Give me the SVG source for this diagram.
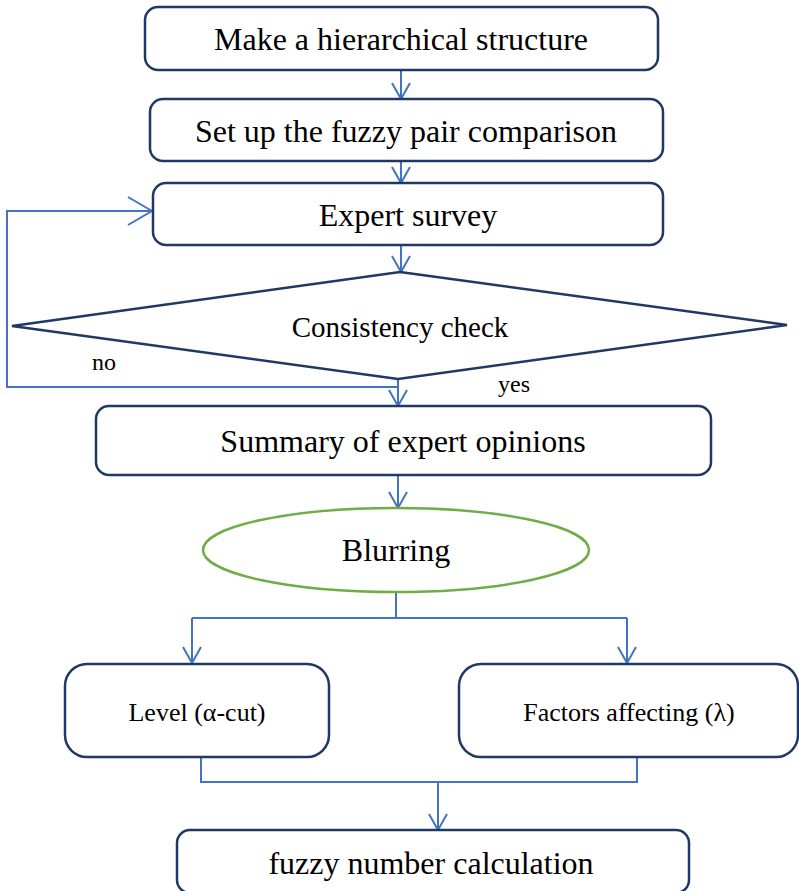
<svg xmlns="http://www.w3.org/2000/svg" width="799" height="891" viewBox="0 0 799 891">
<defs>
<style>
.node{fill:#fff;stroke:#203864;stroke-width:2.5}
.ell{fill:#fff;stroke:#70AD47;stroke-width:2.5}
.conn{fill:none;stroke:#4472C4;stroke-width:2}
.t{font-family:"Liberation Serif","Times New Roman",serif;fill:#000;text-anchor:middle}
.big{font-size:32px}
.mid{font-size:29px}
.sm{font-size:26px}
.lbl{font-size:24px}
</style>
<marker id="ah" viewBox="0 0 18 20" refX="17" refY="10" markerWidth="18" markerHeight="20" markerUnits="userSpaceOnUse" orient="auto">
<path d="M1,1 L17,10 L1,19" fill="none" stroke="#4472C4" stroke-width="2"/>
</marker>
<marker id="ahb" viewBox="0 0 26 30" refX="25" refY="15" markerWidth="26" markerHeight="30" markerUnits="userSpaceOnUse" orient="auto">
<path d="M1,1 L25,15 L1,29" fill="none" stroke="#4472C4" stroke-width="2"/>
</marker>
</defs>
<g id="connectors">
<path class="conn" d="M401,70 V99" marker-end="url(#ah)"/>
<path class="conn" d="M401,161 V183" marker-end="url(#ah)"/>
<path class="conn" d="M401,245 V272" marker-end="url(#ah)"/>
<path class="conn" d="M398,379 V406" marker-end="url(#ah)"/>
<path class="conn" d="M398,387 H7 V211 H152" marker-end="url(#ahb)"/>
<path class="conn" d="M398,475 V508" marker-end="url(#ah)"/>
<path class="conn" d="M396,593 V618"/>
<path class="conn" d="M192,618 H627"/>
<path class="conn" d="M192,618 V663" marker-end="url(#ah)"/>
<path class="conn" d="M627,618 V663" marker-end="url(#ah)"/>
<path class="conn" d="M201,757 V782 H637 V757"/>
<path class="conn" d="M438,782 V830" marker-end="url(#ah)"/>
</g>
<g id="n1"><rect class="node" x="145" y="7" width="513" height="63" rx="13"/><text class="t big" x="401" y="50">Make a hierarchical structure</text></g>
<g id="n2"><rect class="node" x="150" y="99" width="513" height="62" rx="13"/><text class="t big" x="406" y="142">Set up the fuzzy pair comparison</text></g>
<g id="n3"><rect class="node" x="153" y="183" width="510" height="62" rx="13"/><text class="t big" x="408" y="226">Expert survey</text></g>
<g id="n4"><polygon class="node" points="400,272 787,325 398,379 12,326"/><text class="t mid" x="400" y="337">Consistency check</text></g>
<text class="t lbl" x="104" y="370">no</text>
<text class="t lbl" x="514" y="392">yes</text>
<g id="n5"><rect class="node" x="96" y="406" width="615" height="69" rx="13"/><text class="t big" x="403" y="452">Summary of expert opinions</text></g>
<g id="n6"><ellipse class="ell" cx="396" cy="550" rx="193" ry="42"/><text class="t big" x="396" y="561">Blurring</text></g>
<g id="n7"><rect class="node" x="65" y="664" width="264" height="93" rx="22"/><text class="t sm" x="197" y="721">Level (α-cut)</text></g>
<g id="n8"><rect class="node" x="459" y="664" width="339" height="93" rx="22"/><text class="t sm" x="629" y="721">Factors affecting (λ)</text></g>
<g id="n9"><rect class="node" x="177" y="830" width="512" height="63" rx="13"/><text class="t big" x="431" y="874">fuzzy number calculation</text></g>
</svg>
